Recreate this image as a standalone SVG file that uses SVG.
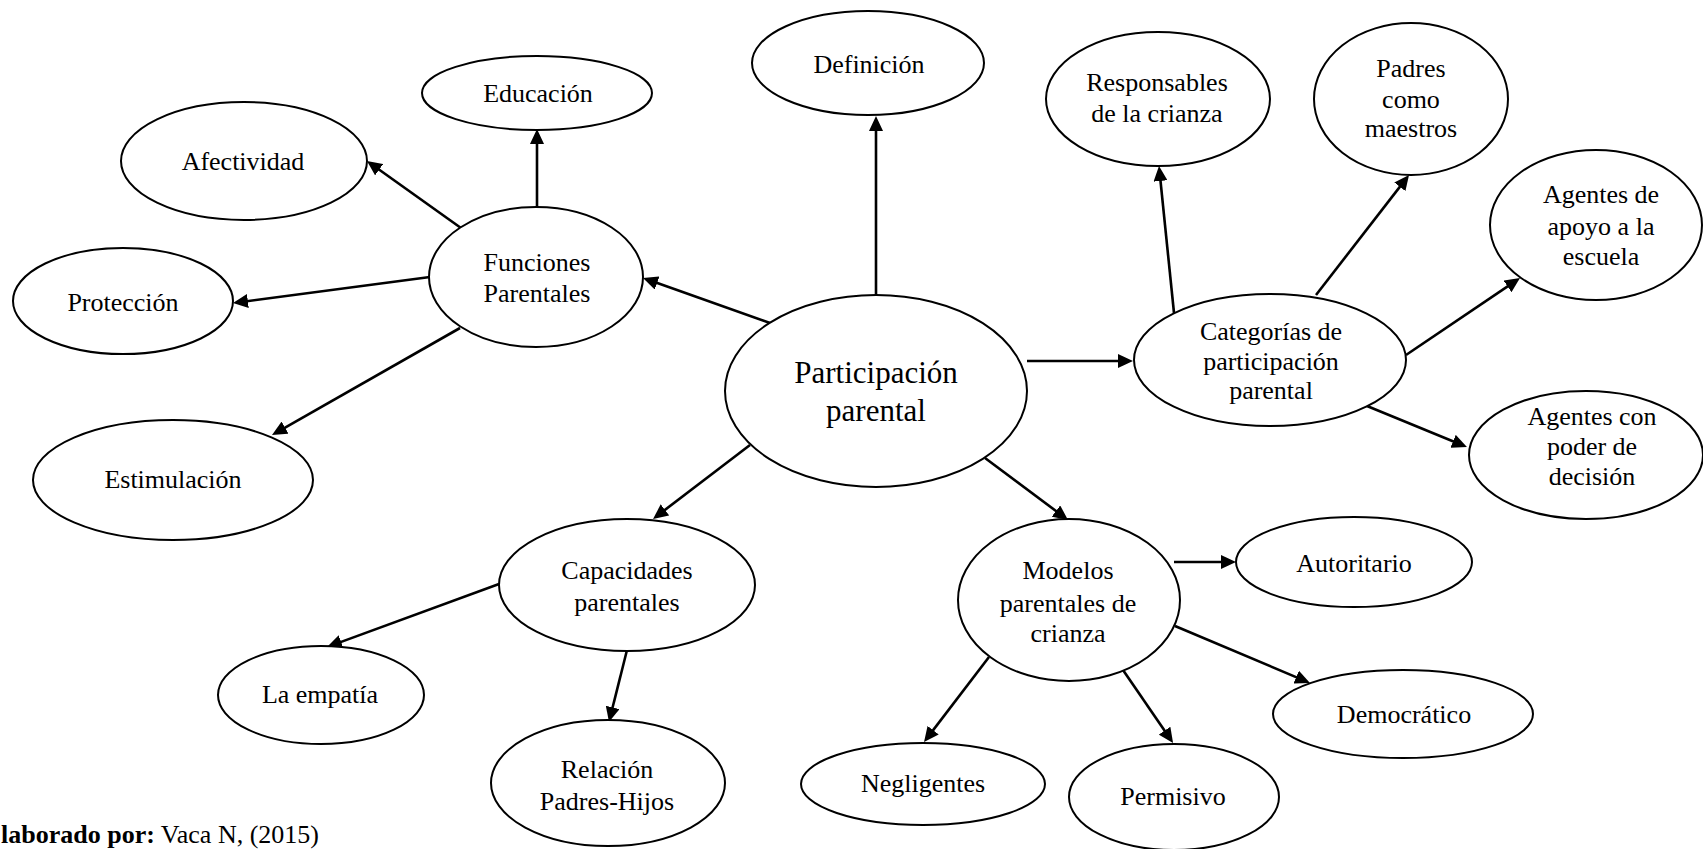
<svg xmlns="http://www.w3.org/2000/svg" width="1703" height="849" viewBox="0 0 1703 849">
<style>
.n ellipse{fill:#fff;stroke:#000;stroke-width:2}
.n text{font-family:'Liberation Serif','Times New Roman',serif;font-size:26px;fill:#000;text-anchor:middle}
#c line{stroke:#000;stroke-width:2.6;marker-end:url(#ah)}
.ft{font-family:'Liberation Serif','Times New Roman',serif;font-size:26px;fill:#000}
</style>
<defs>
<marker id="ah" viewBox="0 0 15 14" markerWidth="15" markerHeight="14" refX="5" refY="7" markerUnits="userSpaceOnUse" orient="auto">
<path d="M0,0 L15,7 L0,14 z" fill="#000"/>
</marker>
</defs>
<rect width="1703" height="849" fill="#fff"/>
<g id="c">
<line x1="876" y1="295" x2="876" y2="126"/>
<line x1="770" y1="323" x2="652.4" y2="281.3"/>
<line x1="1027" y1="361" x2="1123" y2="361"/>
<line x1="750" y1="445" x2="661" y2="512.9"/>
<line x1="985" y1="458" x2="1060" y2="514"/>
<line x1="537" y1="207" x2="537" y2="139"/>
<line x1="461" y1="228" x2="375.1" y2="166.8"/>
<line x1="430" y1="277" x2="242.9" y2="301.7"/>
<line x1="460" y1="328" x2="280.7" y2="430.1"/>
<line x1="499" y1="584" x2="336.4" y2="643.6"/>
<line x1="627" y1="650" x2="611.4" y2="712.3"/>
<line x1="1174" y1="313" x2="1160" y2="176"/>
<line x1="1316" y1="295" x2="1402.9" y2="182.9"/>
<line x1="1406" y1="355" x2="1511.7" y2="283.6"/>
<line x1="1367" y1="406" x2="1457.7" y2="443.2"/>
<line x1="1174" y1="562" x2="1226" y2="562"/>
<line x1="1175" y1="626" x2="1300.8" y2="679.1"/>
<line x1="989" y1="657" x2="930.1" y2="734.1"/>
<line x1="1123" y1="670" x2="1167.4" y2="734.8"/>
</g>
<g id="participacion" class="n"><ellipse cx="876" cy="391" rx="151" ry="96"/><text x="876" y="383" style="font-size:31px">Participación</text><text x="876" y="421" style="font-size:31px">parental</text></g>
<g id="definicion" class="n"><ellipse cx="868" cy="63" rx="116" ry="52"/><text x="869" y="73">Definición</text></g>
<g id="funciones" class="n"><ellipse cx="536" cy="277" rx="107" ry="70"/><text x="537" y="271">Funciones</text><text x="537" y="302">Parentales</text></g>
<g id="educacion" class="n"><ellipse cx="537" cy="93" rx="115" ry="37"/><text x="538" y="102">Educación</text></g>
<g id="afectividad" class="n"><ellipse cx="244" cy="161" rx="123" ry="59"/><text x="243" y="170">Afectividad</text></g>
<g id="proteccion" class="n"><ellipse cx="123" cy="301" rx="110" ry="53"/><text x="123" y="311">Protección</text></g>
<g id="estimulacion" class="n"><ellipse cx="173" cy="480" rx="140" ry="60"/><text x="173" y="488">Estimulación</text></g>
<g id="capacidades" class="n"><ellipse cx="627" cy="585" rx="128" ry="66"/><text x="627" y="579">Capacidades</text><text x="627" y="611">parentales</text></g>
<g id="empatia" class="n"><ellipse cx="321" cy="695" rx="103" ry="49"/><text x="320" y="703">La empatía</text></g>
<g id="relacion" class="n"><ellipse cx="608" cy="783" rx="117" ry="63"/><text x="607" y="778">Relación</text><text x="607" y="810">Padres-Hijos</text></g>
<g id="categorias" class="n"><ellipse cx="1270" cy="360" rx="136" ry="66"/><text x="1271" y="340">Categorías de</text><text x="1271" y="370">participación</text><text x="1271" y="399">parental</text></g>
<g id="responsables" class="n"><ellipse cx="1158" cy="99" rx="112" ry="67"/><text x="1157" y="91">Responsables</text><text x="1157" y="122">de la crianza</text></g>
<g id="padres" class="n"><ellipse cx="1411" cy="99" rx="97" ry="76"/><text x="1411" y="77">Padres</text><text x="1411" y="108">como</text><text x="1411" y="137">maestros</text></g>
<g id="apoyo" class="n"><ellipse cx="1596" cy="225" rx="106" ry="75"/><text x="1601" y="203">Agentes de</text><text x="1601" y="235">apoyo a la</text><text x="1601" y="265">escuela</text></g>
<g id="poder" class="n"><ellipse cx="1586" cy="455" rx="117" ry="64"/><text x="1592" y="425">Agentes con</text><text x="1592" y="455">poder de</text><text x="1592" y="485">decisión</text></g>
<g id="modelos" class="n"><ellipse cx="1069" cy="600" rx="111" ry="81"/><text x="1068" y="579">Modelos</text><text x="1068" y="612">parentales de</text><text x="1068" y="642">crianza</text></g>
<g id="autoritario" class="n"><ellipse cx="1354" cy="562" rx="118" ry="45"/><text x="1354" y="572">Autoritario</text></g>
<g id="democratico" class="n"><ellipse cx="1403" cy="714" rx="130" ry="44"/><text x="1404" y="723">Democrático</text></g>
<g id="negligentes" class="n"><ellipse cx="923" cy="784" rx="122" ry="41"/><text x="923" y="792">Negligentes</text></g>
<g id="permisivo" class="n"><ellipse cx="1174" cy="797" rx="105" ry="53"/><text x="1173" y="805">Permisivo</text></g>
<text class="ft" x="1" y="843"><tspan font-weight="bold">laborado por:</tspan> Vaca N, (2015)</text>
</svg>
